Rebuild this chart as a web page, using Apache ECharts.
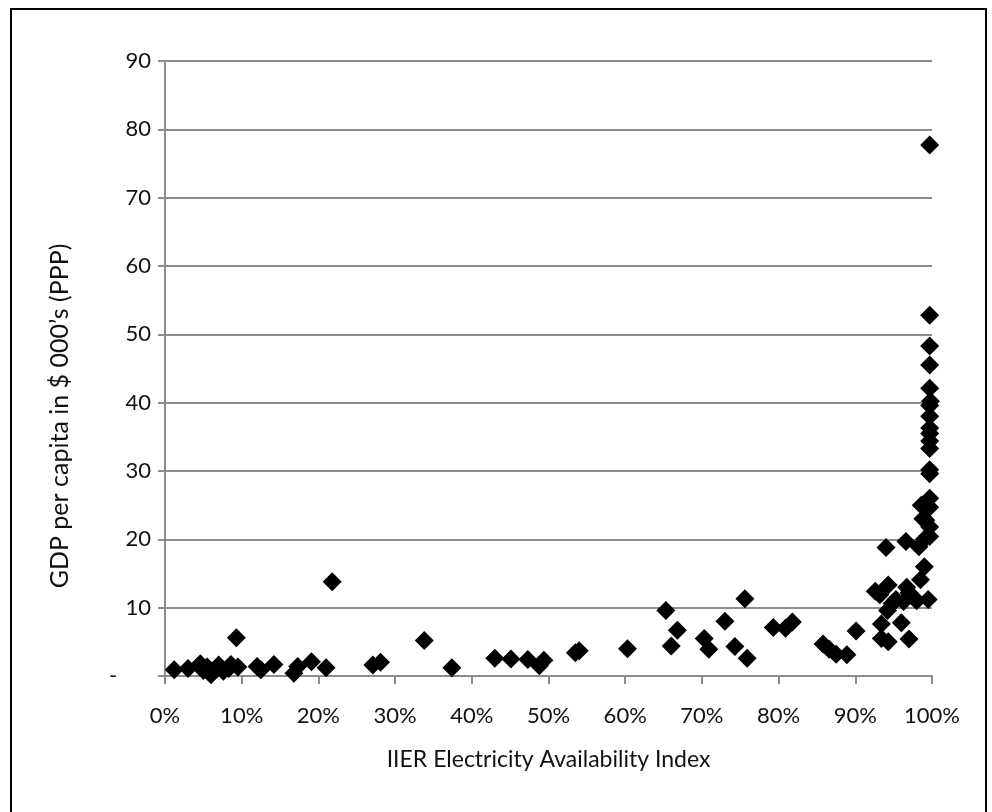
<!DOCTYPE html>
<html>
<head>
<meta charset="utf-8">
<script src="https://cdn.jsdelivr.net/npm/echarts@6/dist/echarts.min.js"></script>
<style>
  html, body { margin: 0; padding: 0; background: #fff; overflow: hidden; }
  #frame {
    position: absolute; left: 10px; top: 8px; width: 973px; height: 820px;
    border-left: 2px solid #000; border-top: 2px solid #000; border-right: 2px solid #000;
  }
  #chart { position: absolute; left: 0; top: 0; width: 992px; height: 812px; }
</style>
</head>
<body>
<div id="frame"></div>
<div id="chart"></div>
<script>
// electricity availability index (%) and GDP per capita ($000, PPP)
const availability = [
  1.2, 3.0, 4.6, 5.0, 5.5, 6.0, 7.0, 7.6, 8.3, 8.6, 9.3, 9.5,
  12.0, 12.5, 14.2, 16.8, 17.3, 19.1, 21.0, 21.8, 27.1, 28.1,
  33.8, 37.4, 43.0, 45.1, 47.3, 48.8, 49.4, 53.5, 54.0, 60.3,
  65.3, 66.0, 66.8, 70.3, 70.9, 73.0, 74.3, 75.6, 75.9, 79.3,
  80.9, 81.8, 85.8, 86.6, 87.5, 88.9, 90.1, 92.6, 93.2, 93.4,
  93.4, 94.0, 94.2, 94.3, 94.3, 94.8, 95.3, 96.0, 96.3, 96.6,
  96.7, 97.0, 97.0, 97.5, 98.0, 98.3, 98.5, 98.6, 98.8, 99.0,
  99.0, 99.2, 99.3, 99.5, 99.7, 99.7, 99.7, 99.7, 99.7, 99.7,
  99.7, 99.7, 99.7, 99.7, 99.7, 99.7, 99.7, 99.7, 99.7, 99.7,
  99.7, 99.8
];
const gdpPerCapita = [
  0.9, 1.1, 1.8, 0.8, 1.3, 0.2, 1.6, 0.7, 1.1, 1.7, 5.6, 1.3,
  1.4, 0.9, 1.7, 0.4, 1.4, 2.1, 1.2, 13.8, 1.6, 2.0,
  5.2, 1.2, 2.6, 2.5, 2.4, 1.5, 2.3, 3.4, 3.7, 4.0,
  9.6, 4.4, 6.7, 5.5, 3.9, 8.0, 4.3, 11.3, 2.6, 7.1,
  7.0, 7.9, 4.7, 3.9, 3.2, 3.1, 6.6, 12.4, 11.9, 7.6,
  5.5, 18.8, 9.6, 13.3, 5.0, 10.6, 11.2, 7.8, 10.9, 19.7,
  13.0, 12.2, 5.4, 11.6, 11.0, 18.9, 14.1, 25.0, 23.0, 16.0,
  20.0, 22.8, 24.5, 11.2, 77.7, 52.8, 48.3, 45.5, 42.1, 39.6,
  38.0, 36.3, 35.5, 34.4, 33.3, 30.2, 29.6, 26.0, 24.7, 21.8,
  20.4, 40.2
];

const xTitle = "IIER Electricity Availability Index";
const yTitle = "GDP per capita in $ 000\u2019s (PPP)";

const points = availability.map((x, i) => [x, gdpPerCapita[i]]);

// Lato is the closest installed face to Calibri (Carlito is derived from it)
const FONT = "Lato, 'Open Sans', sans-serif";
const AXIS_COL = "#8c8c8c";
const TEXT_COL = "#111";

const chart = echarts.init(document.getElementById("chart"), null, { renderer: "canvas" });

chart.setOption({
  animation: false,
  backgroundColor: "transparent",
  grid: { left: 165, right: 60, top: 61, bottom: 136, containLabel: false },
  // y title sits lower than the axis middle in the original (centred on the whole box)
  graphic: [{
    type: "text",
    x: 60, y: 416,
    rotation: Math.PI / 2,
    style: {
      text: yTitle,
      fontFamily: FONT, fontSize: 25, fill: TEXT_COL,
      align: "center", verticalAlign: "middle"
    },
    silent: true
  }],
  xAxis: {
    type: "value",
    min: 0, max: 100, interval: 10,
    name: xTitle,
    nameLocation: "middle",
    nameGap: 72,
    nameTextStyle: { fontFamily: FONT, fontSize: 23, color: TEXT_COL },
    axisLine: { show: true, lineStyle: { color: AXIS_COL, width: 2 } },
    axisTick: { show: true, length: 8, lineStyle: { color: AXIS_COL, width: 2 } },
    axisLabel: {
      fontFamily: FONT, fontSize: 22, color: TEXT_COL, margin: 29,
      formatter: v => v + "%"
    },
    splitLine: { show: false }
  },
  yAxis: {
    type: "value",
    min: 0, max: 90, interval: 10,
    axisLine: { show: true, lineStyle: { color: AXIS_COL, width: 2 } },
    axisTick: { show: true, length: 7, lineStyle: { color: AXIS_COL, width: 2 } },
    axisLabel: {
      fontFamily: FONT, fontSize: 22, color: TEXT_COL, margin: 14,
      formatter: v => (v === 0 ? "-      " : String(v))
    },
    splitLine: { show: true, lineStyle: { color: AXIS_COL, width: 2 } }
  },
  series: [{
    type: "scatter",
    data: points,
    symbol: "diamond",
    symbolSize: 19,
    itemStyle: { color: "#000", opacity: 1 },
    silent: true
  }]
});
</script>
</body>
</html>
